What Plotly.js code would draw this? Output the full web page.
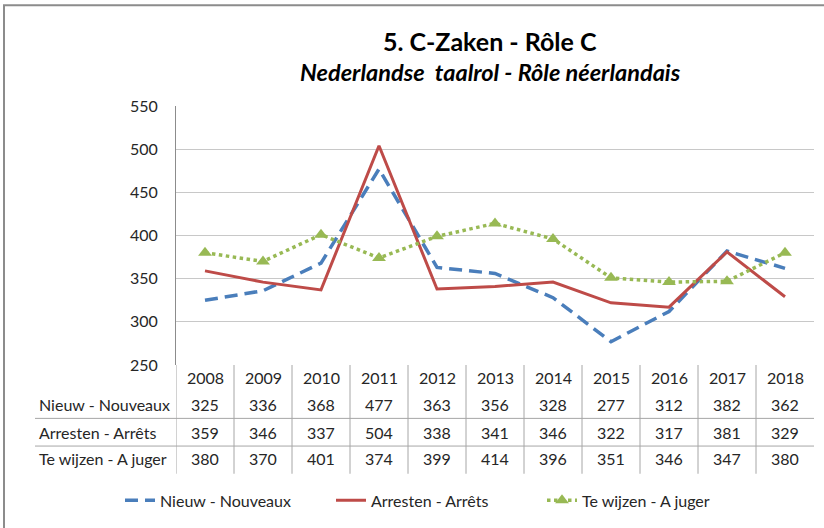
<!DOCTYPE html>
<html>
<head>
<meta charset="utf-8">
<script src="https://cdn.plot.ly/plotly-3.0.1.min.js"></script>
<style>body{margin:0;padding:0;background:#fff}#chart{width:824px;height:528px}</style>
</head>
<body>
<div id="chart"></div>
<script>
const years = ['2008','2009','2010','2011','2012','2013','2014','2015','2016','2017','2018'];
const nieuw = [325,336,368,477,363,356,328,277,312,382,362];
const arresten = [359,346,337,504,338,341,346,322,317,381,329];
const teWijzen = [380,370,401,374,399,414,396,351,346,347,380];
const seriesNames = ['Nieuw - Nouveaux','Arresten - Arrêts','Te wijzen - A juger'];
const titleText = '5. C-Zaken - Rôle C';
const subtitleText = 'Nederlandse  taalrol - Rôle néerlandais';

const W = 824, H = 528;
const M = {l:176, r:10, t:106, b:160};
const PW = W - M.l - M.r, PH = H - M.t - M.b;
const px = x => (x - M.l) / PW;
const py = y => (H - M.b - y) / PH;
const FONT = 'Lato, "Open Sans", sans-serif';
const TXT = '#262626';
const FS = 16;

const traces = [
  {x: years, y: nieuw, name: seriesNames[0], type: 'scatter', mode: 'lines',
   line: {color: '#4A7EBB', width: 3.5, dash: '13px,7px'}},
  {x: years, y: arresten, name: seriesNames[1], type: 'scatter', mode: 'lines',
   line: {color: '#BE4B48', width: 3}},
  {x: years, y: teWijzen, name: seriesNames[2], type: 'scatter', mode: 'lines+markers',
   line: {color: '#98B954', width: 3.5, dash: 'dot'},
   marker: {symbol: 'triangle-up', size: 12, color: '#98B954'}}
];

const annotations = [];
const shapes = [];
annotations.push({xref:'paper', yref:'paper', x: px(490), y: py(40), text: '<b>' + titleText + '</b>',
  showarrow:false, font:{family:FONT, size:25, color:'#000'}, xanchor:'center', yanchor:'middle'});
annotations.push({xref:'paper', yref:'paper', x: px(490), y: py(72), text: '<b><i>' + subtitleText + '</i></b>',
  showarrow:false, font:{family:FONT, size:23.5, color:'#000'}, xanchor:'center', yanchor:'middle'});

const rowY = [py(408), py(436), py(463)];
const rowData = [nieuw, arresten, teWijzen];
years.forEach((yr, i) => {
  annotations.push({xref:'x', yref:'paper', x: i, y: py(381), text: yr, showarrow:false,
    font:{family:FONT, size:FS, color:TXT}, xanchor:'center', yanchor:'middle'});
  rowData.forEach((arr, r) => {
    annotations.push({xref:'x', yref:'paper', x: i, y: rowY[r], text: String(arr[i]), showarrow:false,
      font:{family:FONT, size:FS, color:TXT}, xanchor:'center', yanchor:'middle'});
  });
});
seriesNames.forEach((n, r) => {
  annotations.push({xref:'paper', yref:'paper', x: px(37), y: rowY[r], text: n, showarrow:false,
    font:{family:FONT, size:FS, color:TXT}, xanchor:'left', yanchor:'middle'});
});

for (let i = 0; i < years.length; i++) {
  shapes.push({type:'line', xref:'x', yref:'paper', x0: i - 0.5, x1: i - 0.5, y0: 0, y1: py(478),
    line:{color:'#A6A6A6', width:1}});
}
[422, 450].forEach(y => {
  shapes.push({type:'line', xref:'paper', yref:'paper', x0: px(35), x1: 1, y0: py(y), y1: py(y),
    line:{color:'#A6A6A6', width:1}});
});
shapes.push({type:'rect', xref:'paper', yref:'paper', x0: px(4), x1: px(830), y0: py(4), y1: py(540),
  line:{color:'#8C8C8C', width:2}, layer:'below'});

const layout = {
  width: W, height: H,
  margin: M,
  paper_bgcolor: '#fff', plot_bgcolor: '#fff',
  font: {family: FONT, color: TXT},
  showlegend: true,
  legend: {orientation:'h', x: px(120), xanchor:'left', y: py(505), yanchor:'middle',
    font:{family:FONT, size:FS, color:TXT}, entrywidth:166, entrywidthmode:'pixels', tracegroupgap:0},
  xaxis: {type:'category', showticklabels:false, ticks:'', showgrid:false, zeroline:false,
    showline:false, range:[-0.5, 10.5], fixedrange:true},
  yaxis: {range:[250,550], dtick:50, tick0:250, showgrid:true, gridcolor:'#C8C8C8', gridwidth:1,
    zeroline:false, showline:true, linecolor:'#8C8C8C', linewidth:1, ticks:'', ticklen:0,
    tickfont:{family:FONT, size:FS, color:TXT}, ticklabelstandoff:14, fixedrange:true},
  annotations: annotations,
  shapes: shapes
};

Plotly.newPlot('chart', traces, layout, {displayModeBar:false, staticPlot:true});
</script>
</body>
</html>
